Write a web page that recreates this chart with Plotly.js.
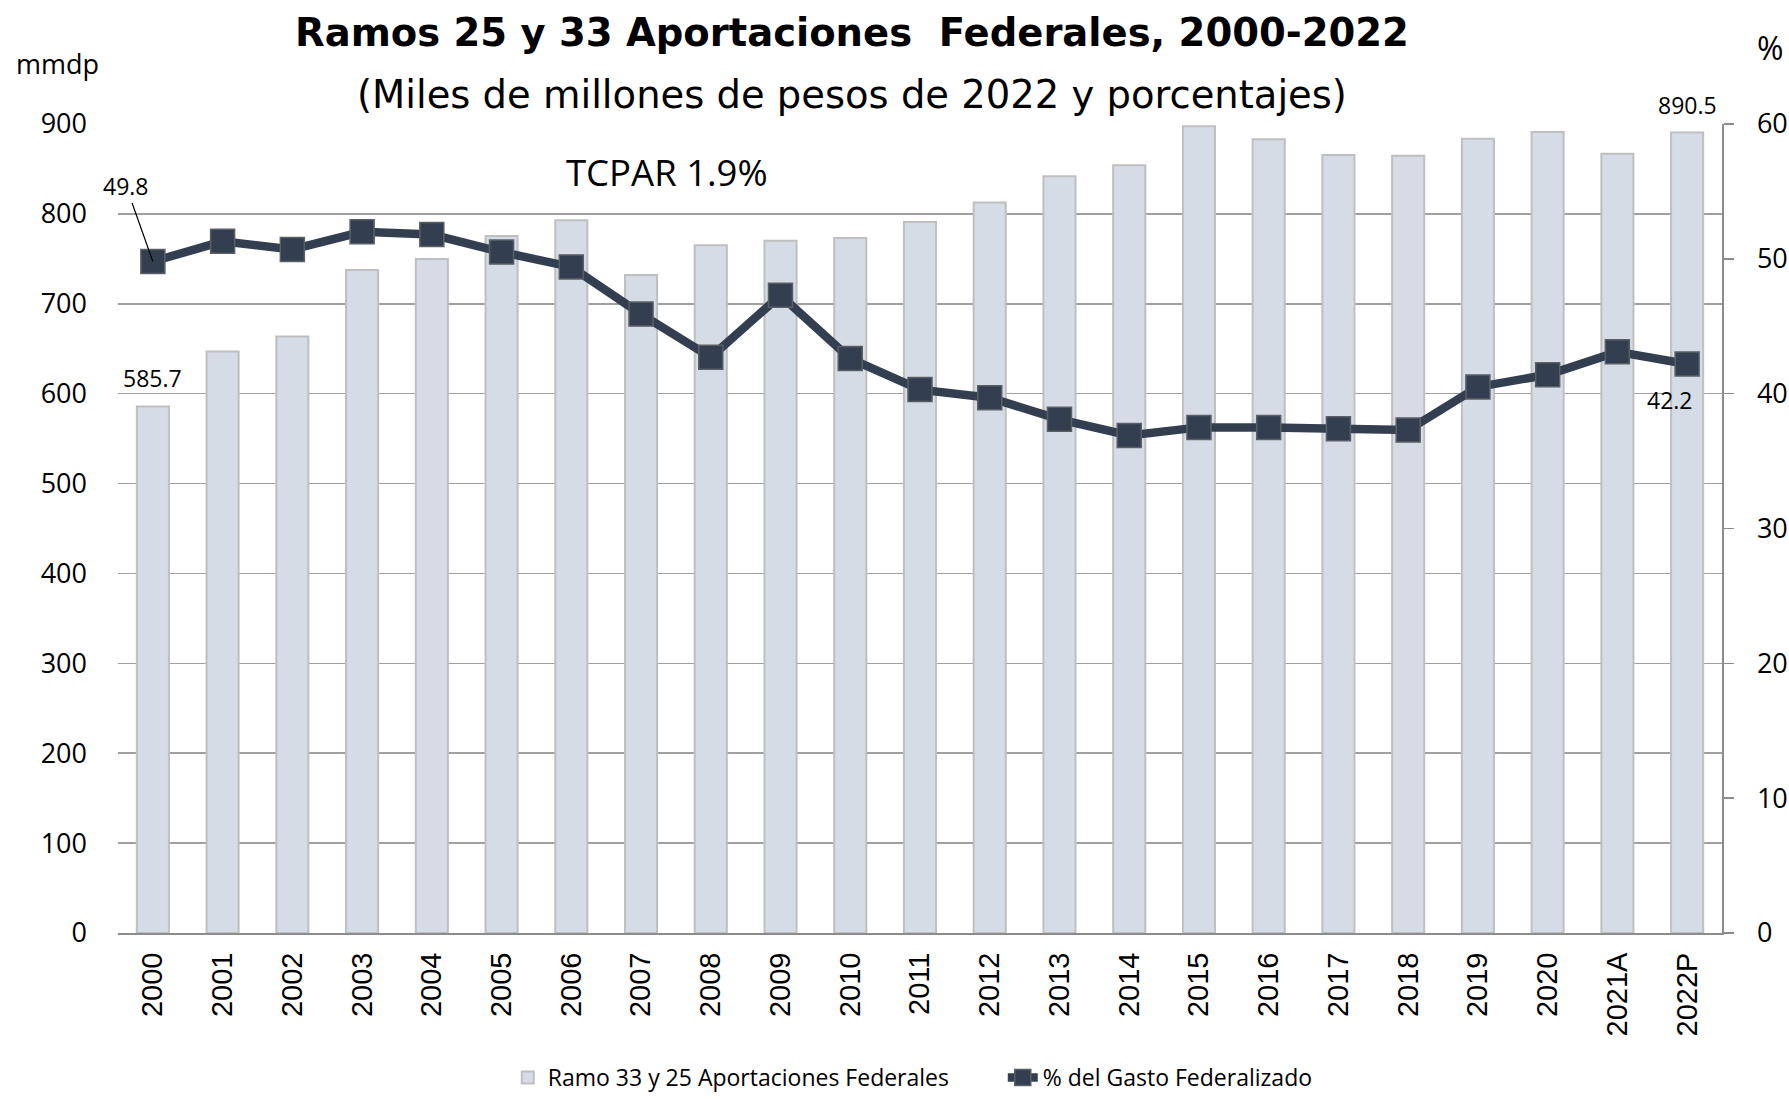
<!DOCTYPE html>
<html>
<head>
<meta charset="utf-8">
<script src="https://cdn.plot.ly/plotly-3.0.1.min.js"></script>
<style>html,body{margin:0;padding:0;background:#fff;}</style>
</head>
<body>
<div id="chart" style="width:1789px;height:1099px;"></div>
<script>
const years = ['2000','2001','2002','2003','2004','2005','2006','2007','2008','2009','2010','2011','2012','2013','2014','2015','2016','2017','2018','2019','2020','2021A','2022P'];
const aportaciones = [585.7, 647.0, 663.6, 737.5, 749.7, 775.3, 793.0, 732.0, 765.0, 770.0, 773.2, 791.0, 812.7, 841.8, 854.0, 897.5, 883.0, 865.5, 864.7, 883.6, 891.0, 867.0, 890.5];
const pctGasto = [49.8, 51.3, 50.7, 52.0, 51.8, 50.5, 49.4, 45.9, 42.7, 47.3, 42.6, 40.3, 39.7, 38.1, 36.9, 37.5, 37.5, 37.4, 37.3, 40.5, 41.4, 43.1, 42.2];
const leftTicks = [0, 100, 200, 300, 400, 500, 600, 700, 800, 900];
const rightTicks = [0, 10, 20, 30, 40, 50, 60];
const titleText = 'Ramos 25 y 33 Aportaciones  Federales, 2000-2022';
const subtitleText = '(Miles de millones de pesos de 2022 y porcentajes)';
const barName = 'Ramo 33 y 25 Aportaciones Federales';
const lineName = '% del Gasto Federalizado';
const noteText = 'TCPAR 1.9%';

const NAVY = '#333f50';
const BODY = 'Open Sans, Noto Sans, sans-serif';
const last = years.length - 1;

const traces = [
  {
    type: 'bar', name: barName, x: years, y: aportaciones, yaxis: 'y',
    marker: {color: '#d6dce5', line: {color: '#bfbfbf', width: 2}},
    hoverinfo: 'skip'
  },
  {
    type: 'scatter', mode: 'lines+markers', name: lineName, x: years, y: pctGasto, yaxis: 'y2',
    line: {color: NAVY, width: 8.5},
    marker: {symbol: 'square', size: 24, color: NAVY, line: {color: '#5a5f66', width: 1.5}},
    hoverinfo: 'skip'
  }
];

const annotations = [
  {xref: 'paper', yref: 'paper', x: 0.4576, y: 1.1134, xanchor: 'center', yanchor: 'middle', showarrow: false,
   text: '<b>' + titleText + '</b>', font: {family: 'DejaVu Sans, sans-serif', size: 38.5, color: '#000'}},
  {xref: 'paper', yref: 'paper', x: 0.4576, y: 1.0365, xanchor: 'center', yanchor: 'middle', showarrow: false,
   text: subtitleText, font: {family: 'DejaVu Sans, sans-serif', size: 38.5, color: '#000'}},
  {xref: 'paper', yref: 'paper', x: -0.038, y: 1.0747, xanchor: 'center', yanchor: 'middle', showarrow: false,
   text: 'mmdp', font: {family: BODY, size: 27, color: '#000'}},
  {xref: 'paper', yref: 'paper', x: 1.03, y: 1.094, xanchor: 'center', yanchor: 'middle', showarrow: false,
   text: '%', font: {family: BODY, size: 32, color: '#000'}},
  {xref: 'paper', yref: 'paper', x: 0.3423, y: 0.9407, xanchor: 'center', yanchor: 'middle', showarrow: false,
   text: noteText, font: {family: BODY, size: 36.5, color: '#000'}},
  {x: 0, y: aportaciones[0], xref: 'x', yref: 'y', yanchor: 'bottom', yshift: 11, showarrow: false,
   text: aportaciones[0].toFixed(1), font: {family: BODY, size: 23, color: '#000'}},
  {x: last, y: aportaciones[last], xref: 'x', yref: 'y', yanchor: 'bottom', yshift: 10, showarrow: false,
   text: aportaciones[last].toFixed(1), font: {family: BODY, size: 23, color: '#000'}},
  {x: 0, y: pctGasto[0], xref: 'x', yref: 'y2', showarrow: true, arrowhead: 0, arrowwidth: 1.2, arrowcolor: '#000',
   ax: -27, ay: -76, standoff: 0, text: pctGasto[0].toFixed(1), font: {family: BODY, size: 23, color: '#000'}},
  {x: last, y: pctGasto[last], xref: 'x', yref: 'y2', showarrow: false, xshift: -17, yshift: -36,
   text: pctGasto[last].toFixed(1), font: {family: BODY, size: 23, color: '#000'}}
];

const layout = {
  width: 1789, height: 1099,
  margin: {l: 118, r: 67, t: 124, b: 166, pad: 0},
  paper_bgcolor: '#ffffff', plot_bgcolor: '#ffffff',
  bargap: 0.54,
  showlegend: true,
  legend: {orientation: 'h', xref: 'paper', x: 0.243, xanchor: 'left',
           yref: 'container', y: -0.0174, yanchor: 'bottom',
           entrywidth: 450, entrywidthmode: 'pixels',
           font: {family: BODY, size: 23, color: '#000'}, bgcolor: 'rgba(0,0,0,0)'},
  xaxis: {
    type: 'category', categoryorder: 'array', categoryarray: years,
    range: [-0.5, years.length - 0.5], autorange: false,
    showgrid: false, zeroline: false,
    showline: true, linecolor: '#8c8c8c', linewidth: 2,
    ticks: '', tickangle: -90, ticklabelstandoff: 6,
    tickfont: {family: 'Liberation Sans, Arial, sans-serif', size: 29, color: '#000'}
  },
  yaxis: {
    range: [0, 900], autorange: false, tickvals: leftTicks, ticktext: leftTicks.map(String),
    showgrid: true, gridcolor: '#a0a0a0', gridwidth: 1.5, zeroline: false, showline: false,
    ticks: '', ticklabelstandoff: 30,
    tickfont: {family: BODY, size: 27, color: '#000'}
  },
  yaxis2: {
    range: [0, 60], autorange: false, tickvals: rightTicks, ticktext: rightTicks.map(String),
    overlaying: 'y', side: 'right', showgrid: false, zeroline: false,
    showline: true, linecolor: '#8c8c8c', linewidth: 1.5,
    ticks: 'outside', ticklen: 10, tickcolor: '#8c8c8c', tickwidth: 1.5, ticklabelstandoff: 18,
    tickfont: {family: BODY, size: 27, color: '#000'}
  },
  annotations: annotations
};

Plotly.newPlot('chart', traces, layout, {staticPlot: true, displayModeBar: false});
</script>
</body>
</html>
